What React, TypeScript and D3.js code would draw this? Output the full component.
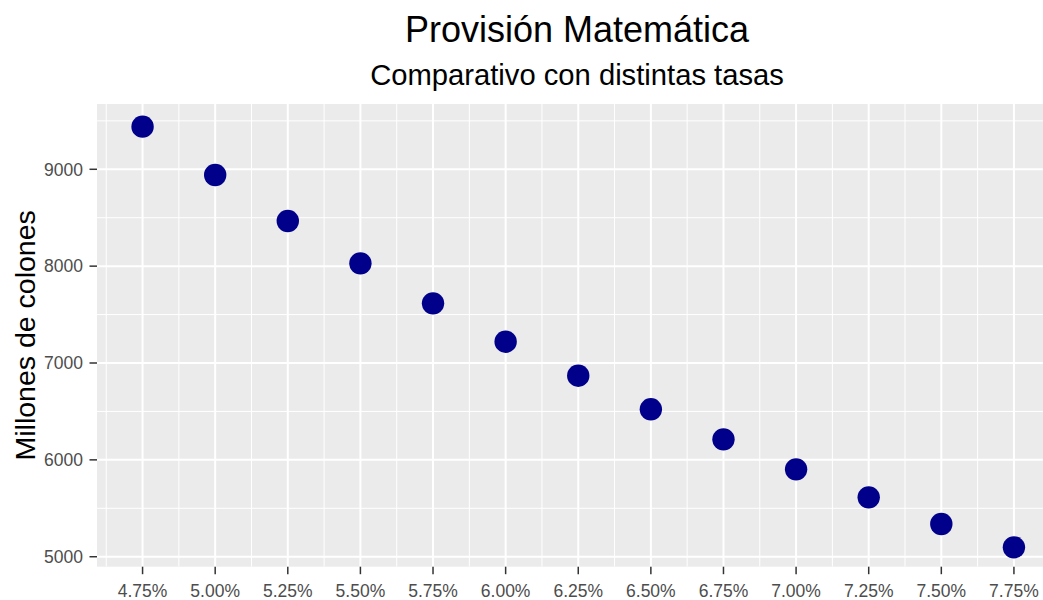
import React from "react";
import * as d3 from "d3";

// tasas de descuento (%) y provisión en millones de colones
const tasas = [4.75, 5.0, 5.25, 5.5, 5.75, 6.0, 6.25, 6.5, 6.75, 7.0, 7.25, 7.5, 7.75];
const provision = [9440, 8941, 8466, 8029, 7616, 7220, 6869, 6522, 6212, 5902, 5613, 5338, 5097];

const yTicks = [5000, 6000, 7000, 8000, 9000];
const yMinor = [5500, 6500, 7500, 8500, 9500];
const xMinor = [4.625, 4.875, 5.125, 5.375, 5.625, 5.875, 6.125, 6.375, 6.625, 6.875, 7.125, 7.375, 7.625, 7.875];

const TITLE = "Provisión Matemática";
const SUBTITLE = "Comparativo con distintas tasas";
const Y_LABEL = "Millones de colones";

const W = 1043;
const H = 600;
const PANEL = { left: 97, right: 1057, top: 104, bottom: 566.7 };
const FONT = "'Liberation Sans', Arial, sans-serif";

export default function App() {
  const x = d3.scaleLinear().domain([4.6, 7.9]).range([99, 1057.5]);
  const y = d3.scaleLinear().domain([4897, 9674]).range([PANEL.bottom, PANEL.top]);
  const data = tasas.map((t, i) => ({ t, v: provision[i] }));
  const fmt = (t: number) => d3.format(".2f")(t) + "%";

  return (
    <svg
      width={W}
      height={H}
      style={{ position: "absolute", left: 0, top: 0, fontFamily: FONT }}
    >
      <rect width={W} height={H} fill="#fff" />
      <defs>
        <clipPath id="panel">
          <rect
            x={PANEL.left}
            y={PANEL.top}
            width={PANEL.right - PANEL.left}
            height={PANEL.bottom - PANEL.top}
          />
        </clipPath>
      </defs>

      {/* panel de fondo */}
      <rect
        x={PANEL.left}
        y={PANEL.top}
        width={PANEL.right - PANEL.left}
        height={PANEL.bottom - PANEL.top}
        fill="#EBEBEB"
      />

      <g clipPath="url(#panel)">
        {/* grilla menor */}
        {yMinor.map((v) => (
          <line key={"ym" + v} x1={PANEL.left} x2={PANEL.right} y1={y(v)} y2={y(v)} stroke="#fff" strokeWidth={1} />
        ))}
        {xMinor.map((t) => (
          <line key={"xm" + t} x1={x(t)} x2={x(t)} y1={PANEL.top} y2={PANEL.bottom} stroke="#fff" strokeWidth={1} />
        ))}
        {/* grilla mayor */}
        {yTicks.map((v) => (
          <line key={"y" + v} x1={PANEL.left} x2={PANEL.right} y1={y(v)} y2={y(v)} stroke="#fff" strokeWidth={2} />
        ))}
        {tasas.map((t) => (
          <line key={"x" + t} x1={x(t)} x2={x(t)} y1={PANEL.top} y2={PANEL.bottom} stroke="#fff" strokeWidth={2} />
        ))}

        {/* puntos */}
        {data.map((d) => (
          <circle key={d.t} cx={x(d.t)} cy={y(d.v)} r={11.2} fill="#00008B" />
        ))}
      </g>

      {/* eje Y */}
      {yTicks.map((v) => (
        <g key={"yt" + v}>
          <line x1={PANEL.left - 7.5} x2={PANEL.left} y1={y(v)} y2={y(v)} stroke="#333" strokeWidth={1.5} />
          <text x={PANEL.left - 14} y={y(v)} dy="0.36em" textAnchor="end" fontSize={17.5} fill="#4D4D4D">
            {v}
          </text>
        </g>
      ))}

      {/* eje X */}
      {tasas.map((t) => (
        <g key={"xt" + t}>
          <line x1={x(t)} x2={x(t)} y1={PANEL.bottom} y2={PANEL.bottom + 7.5} stroke="#333" strokeWidth={1.5} />
          <text x={x(t)} y={597} textAnchor="middle" fontSize={17.5} fill="#4D4D4D">
            {fmt(t)}
          </text>
        </g>
      ))}

      {/* título del eje Y */}
      <text
        transform={`translate(35, ${(PANEL.top + PANEL.bottom) / 2}) rotate(-90)`}
        textAnchor="middle"
        fontSize={28.5}
        fill="#000"
      >
        {Y_LABEL}
      </text>

      {/* títulos */}
      <text x={(PANEL.left + PANEL.right) / 2} y={41.5} textAnchor="middle" fontSize={36} fill="#000">
        {TITLE}
      </text>
      <text x={(PANEL.left + PANEL.right) / 2} y={85} textAnchor="middle" fontSize={29.2} fill="#000">
        {SUBTITLE}
      </text>
    </svg>
  );
}
